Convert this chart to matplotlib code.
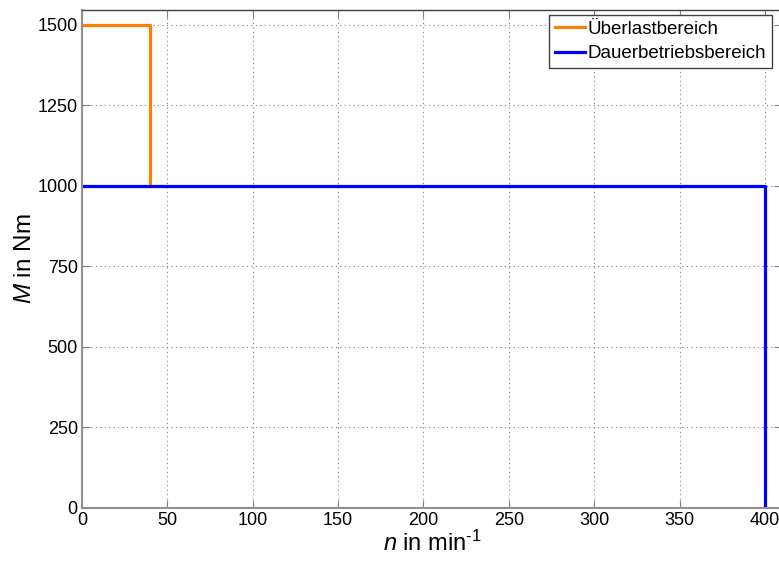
import matplotlib
matplotlib.use("Agg")
import matplotlib.pyplot as plt

plt.rcParams['font.family'] = ['Liberation Sans', 'DejaVu Sans']
plt.rcParams['mathtext.fontset'] = 'custom'
plt.rcParams['mathtext.rm'] = 'Liberation Sans'
plt.rcParams['mathtext.it'] = 'Liberation Sans:italic'
plt.rcParams['axes.unicode_minus'] = False

# Drehzahl / Drehmoment der beiden Betriebsbereiche
n_ueberlast = [0, 40, 40]
m_ueberlast = [1500, 1500, 1000]
n_dauer = [0, 400, 400]
m_dauer = [1000, 1000, 0]

x_ticks = [0, 50, 100, 150, 200, 250, 300, 350, 400]
y_ticks = [0, 250, 500, 750, 1000, 1250, 1500]

fig = plt.figure(figsize=(7.79, 5.61), dpi=100)
ax = fig.add_axes([82/779, 53/561, 700/779, 498/561])

ax.plot(n_ueberlast, m_ueberlast, color='#ff7f00', lw=2.3, label='Überlastbereich')
ax.plot(n_dauer, m_dauer, color='#0000ff', lw=2.3, label='Dauerbetriebsbereich')

ax.set_xlim(0, 410)
ax.set_ylim(0, 1545)
ax.set_xticks(x_ticks)
ax.set_yticks(y_ticks)
ax.tick_params(labelsize=13, direction='in', length=6, color='#808080',
               top=True, right=True, pad=3)
ax.grid(True, linestyle=(0, (1, 3)), color='#808080', lw=0.8)
for side in ['left', 'bottom']:
    ax.spines[side].set_color('#909090')
    ax.spines[side].set_linewidth(1.5)
for side in ['top', 'right']:
    ax.spines[side].set_color('#404040')
    ax.spines[side].set_linewidth(1.0)

ax.set_xlabel(r'$\mathit{n}$ in min$^{\text{-1}}$', fontsize=17, labelpad=1)
ax.set_ylabel(r'$\mathit{M}$ in Nm', fontsize=17.5, labelpad=1)

leg = ax.legend(loc='upper right', bbox_to_anchor=(772/779, 1 - 15/561),
                bbox_transform=fig.transFigure, fontsize=13.5, fancybox=False,
                framealpha=1, edgecolor='#404040', handlelength=1.6,
                handletextpad=0.15, borderpad=0.3, labelspacing=0.4,
                borderaxespad=0)
leg.get_frame().set_linewidth(1.0)

fig.savefig('out.png', dpi=100)
